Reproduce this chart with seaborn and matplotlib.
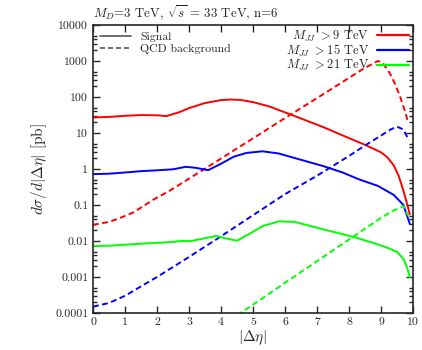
import pandas as pd
import matplotlib.pyplot as plt
from matplotlib.lines import Line2D
from matplotlib.ticker import LogLocator, FixedLocator, NullFormatter
import seaborn as sns

# values (dsigma/d|deta| in pb)
sig9_x = [0, 0.5, 1, 1.5, 2, 2.3, 2.7, 3.0, 3.5, 4.0, 4.3, 4.6, 5.0, 5.5, 6.2, 7.2, 8.0, 8.5, 9.0, 9.2, 9.4, 9.55, 9.7, 9.8, 9.9]
sig9_y = [27, 28, 30, 31.5, 31, 29.5, 38, 49, 68, 82, 85, 83, 72, 55, 32, 14.5, 7.2, 4.7, 2.9, 2.1, 1.25, 0.65, 0.25, 0.12, 0.055]
qcd9_x = [0, 0.5, 0.8, 1.26, 1.88, 2.4, 3, 4, 5, 6, 7, 8, 8.5, 8.7, 8.9, 9.05, 9.28, 9.45, 9.6, 9.75, 9.85]
qcd9_y = [0.028, 0.034, 0.042, 0.062, 0.14, 0.25, 0.54, 1.95, 7.1, 26, 93, 340, 650, 800, 1000, 900, 450, 220, 100, 40, 19]

sig15_x = [0, 0.5, 1, 1.5, 2, 2.5, 2.9, 3.2, 3.6, 4.0, 4.4, 4.8, 5.3, 5.8, 6.5, 7.2, 7.8, 8.3, 8.9, 9.4, 9.7, 9.9]
sig15_y = [0.72, 0.74, 0.80, 0.87, 0.92, 0.98, 1.15, 1.08, 0.93, 1.4, 2.2, 2.8, 3.1, 2.7, 1.8, 1.2, 0.8, 0.52, 0.34, 0.19, 0.1, 0.03]
qcd15_x = [0, 0.5, 1, 1.5, 2, 3, 4, 5, 6, 7, 8, 8.5, 9, 9.3, 9.5, 9.7, 9.87]
qcd15_y = [1.5e-4, 1.9e-4, 3.0e-4, 5.5e-4, 1.0e-3, 3.6e-3, 0.0135, 0.052, 0.2, 0.65, 2.3, 4.5, 8.5, 12.5, 15, 12.5, 6.3]

sig21_x = [0, 0.5, 1, 1.5, 2, 2.5, 2.8, 3.05, 3.4, 3.85, 4.15, 4.5, 4.9, 5.3, 5.8, 6.3, 6.8, 7.2, 7.8, 8.3, 8.8, 9.2, 9.5, 9.7, 9.8, 9.9]
sig21_y = [0.0072, 0.0074, 0.0079, 0.0084, 0.0089, 0.0094, 0.0101, 0.0099, 0.0115, 0.0138, 0.0118, 0.0102, 0.016, 0.026, 0.035, 0.034, 0.026, 0.021, 0.0155, 0.0118, 0.0086, 0.0065, 0.005, 0.0032, 0.002, 0.001]
qcd21_x = [4.5, 5, 6, 7, 8, 9, 9.4, 9.7, 9.85]
qcd21_y = [8.7e-5, 1.7e-4, 6.9e-4, 2.75e-3, 0.011, 0.044, 0.071, 0.093, 0.05]

cuts = [r'$M_{JJ}$ ${>}$9 TeV', r'$M_{JJ}$ ${>}$15 TeV', r'$M_{JJ}$ ${>}$21 TeV']
colors = ['#ff0000', '#0000ff', '#00ff00']

frames = []
for cut, (sx, sy, qx, qy) in zip(cuts, [(sig9_x, sig9_y, qcd9_x, qcd9_y),
                                        (sig15_x, sig15_y, qcd15_x, qcd15_y),
                                        (sig21_x, sig21_y, qcd21_x, qcd21_y)]):
    frames.append(pd.DataFrame({'eta': sx, 'xsec': sy, 'cut': cut, 'kind': 'Signal'}))
    frames.append(pd.DataFrame({'eta': qx, 'xsec': qy, 'cut': cut, 'kind': 'QCD background'}))
df = pd.concat(frames, ignore_index=True)

sns.set_style("ticks")
plt.rcParams['font.family'] = ['cmr10', 'DejaVu Serif']
plt.rcParams['mathtext.fontset'] = 'cm'
plt.rcParams['axes.formatter.use_mathtext'] = True

fig = plt.figure(figsize=(4.22, 3.5), dpi=100)
ax = fig.add_axes([0.2204, 0.1057, 0.7583, 0.8229])

sns.lineplot(data=df, x='eta', y='xsec', hue='cut', style='kind', units='cut',
             estimator=None, sort=False, palette=dict(zip(cuts, colors)),
             dashes={'Signal': '', 'QCD background': (3, 1.8)},
             linewidth=1.4, legend=False, ax=ax)

ax.set_yscale('log')
ax.set_xlim(0, 10)
ax.set_ylim(1e-4, 1e4)
yt = [1e-4, 1e-3, 1e-2, 1e-1, 1, 10, 100, 1000, 10000]
ax.yaxis.set_major_locator(FixedLocator(yt))
ax.set_yticklabels(['0.0001', '0.001', '0.01', '0.1', '1', '10', '100', '1000', '10000'])
ax.yaxis.set_minor_locator(LogLocator(base=10, subs=[2, 3, 4, 5], numticks=20))
ax.yaxis.set_minor_formatter(NullFormatter())
ax.set_xticks(range(11))
ax.set_xticklabels([str(i) for i in range(11)])
ax.tick_params(which='both', direction='in', top=True, right=True, labelsize=8.5, width=1)
ax.tick_params(which='major', length=5)
ax.tick_params(which='minor', length=3)
for s in ax.spines.values():
    s.set_linewidth(1.2)

ax.set_xlabel(r'$|\Delta\eta|$', fontsize=11, labelpad=1)
ax.set_ylabel(r'$d\sigma/d|\Delta\eta|$ [pb]', fontsize=11, labelpad=4)
fig.text(0.2204, 0.95, r'$M_D$=3 TeV, $\sqrt{s}$ = 33 TeV, n=6', fontsize=9.3)

h1 = [Line2D([], [], color='#555555', lw=1.2),
      Line2D([], [], color='#555555', lw=1.2, dashes=(3, 1.8))]
leg1 = ax.legend(h1, ['Signal', 'QCD background'], loc='upper left', frameon=False,
                 fontsize=8.5, handlelength=2.6, labelspacing=0.15,
                 borderaxespad=0.2, handletextpad=0.8)
ax.add_artist(leg1)
h2 = [Line2D([], [], color=c, lw=1.6) for c in colors]
ax.legend(h2, cuts, loc='upper right', bbox_to_anchor=(1.0, 1.0), frameon=False,
          fontsize=9, markerfirst=False, handlelength=2.6, labelspacing=-0.08,
          borderaxespad=0.0, borderpad=0.3, handletextpad=0.6)

fig.savefig('out.png', dpi=100)
